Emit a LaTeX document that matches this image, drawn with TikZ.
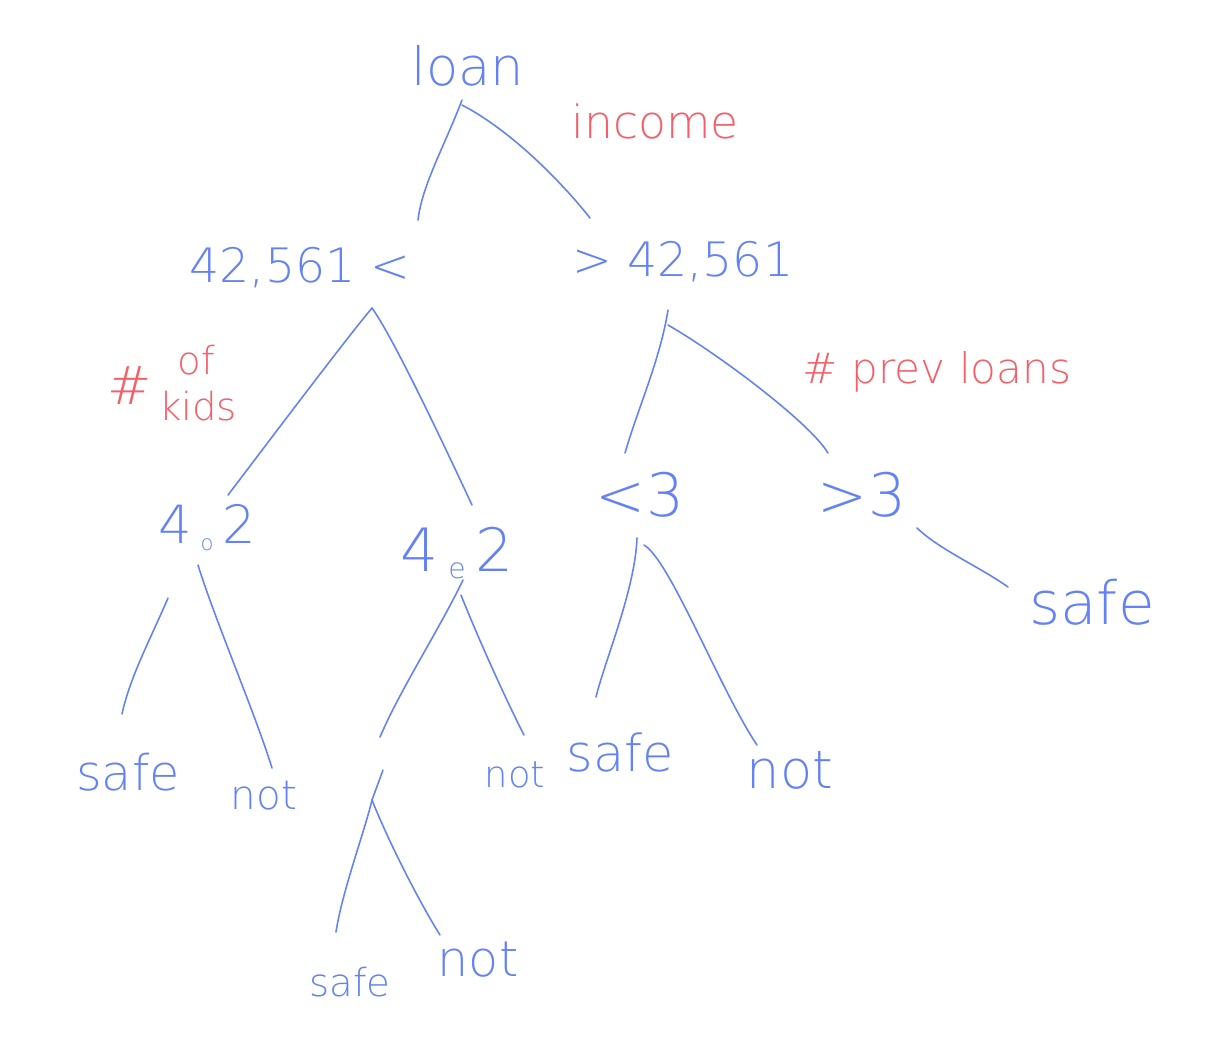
\documentclass[tikz,border=0pt]{standalone}
\usepackage{fontspec}
\IfFontExistsTF{DejaVu Sans ExtraLight}{\setmainfont{DejaVu Sans ExtraLight}}{\setmainfont{DejaVu Sans}}
\usetikzlibrary{calc}
\definecolor{hb}{RGB}{100,130,245}
\definecolor{hr}{RGB}{245,95,105}
\tikzset{
  lbl/.style={text=hb, inner sep=0pt},
  note/.style={text=hr, inner sep=0pt},
  edge/.style={draw=hb, line width=0.9pt, line cap=round}
}
\newcommand{\fs}[1]{\fontsize{#1}{#1}\selectfont}
\begin{document}
\begin{tikzpicture}[x=0.02cm,y=-0.02cm]
\useasboundingbox (0,0) rectangle (1210,1046);
% nodes
\node[lbl, font=\fs{30}] (L) at (468,66) {loan};
\node[note, font=\fs{26}] (I) at (655,122) {income};
\node[lbl, font=\fs{27}] (A) at (300,268) {42,561 <};
\node[lbl, font=\fs{27}] (B) at (683,262) {> 42,561};
\node[note, font=\fs{30}] (K1) at (130,386) {\#};
\node[note, font=\fs{22}] (K2) at (196,360) {of};
\node[note, font=\fs{22}] (K3) at (198,406) {kids};
\node[note, font=\fs{24}] (P) at (937,372) {\# prev loans};
\node[lbl, font=\fs{30}] (C) at (207,528) {4\,\raisebox{-4pt}{\fs{12}o}\,2};
\node[lbl, font=\fs{34}] (D) at (457,553) {4\,\raisebox{-4pt}{\fs{16}e}\,2};
\node[lbl, font=\fs{34}] (E) at (640,495) {<3};
\node[lbl, font=\fs{34}] (F) at (862,495) {>3};
\node[lbl, font=\fs{34}] (G) at (1092,602) {safe};
\node[lbl, font=\fs{28}] (H) at (128,772) {safe};
\node[lbl, font=\fs{23}] (J) at (264,796) {not};
\node[lbl, font=\fs{21}] (M) at (515,775) {not};
\node[lbl, font=\fs{29}] (N) at (620,752) {safe};
\node[lbl, font=\fs{30}] (O) at (790,770) {not};
\coordinate (X) at (378,752);
\node[lbl, font=\fs{22}] (Q) at (350,982) {safe};
\node[lbl, font=\fs{28}] (R) at (478,960) {not};
% edges
\draw[edge] ($(L)+(-6,34)$) .. controls ($(L)+(-23,79)$) and ($(A)+(122,-83)$) .. ($(A)+(118,-48)$);
\draw[edge] ($(L)+(-6,39)$) .. controls ($(L)+(42,64)$) and ($(B)+(-123,-82)$) .. ($(B)+(-93,-44)$);
\draw[edge] ($(A)+(72,40)$) .. controls ($(A)+(45,72)$) and ($(C)+(53,-75)$) .. ($(C)+(21,-33)$);
\draw[edge] ($(A)+(72,40)$) .. controls ($(A)+(95,72)$) and ($(D)+(-7,-95)$) .. ($(D)+(15,-48)$);
\draw[edge] ($(B)+(-15,48)$) .. controls ($(B)+(-23,98)$) and ($(E)+(-2,-87)$) .. ($(E)+(-15,-42)$);
\draw[edge] ($(B)+(-15,63)$) .. controls ($(B)+(37,93)$) and ($(F)+(-52,-72)$) .. ($(F)+(-34,-42)$);
\draw[edge] ($(C)+(-39,70)$) .. controls ($(C)+(-57,112)$) and ($(H)+(2,-95)$) .. ($(H)+(-6,-58)$);
\draw[edge] ($(C)+(-9,37)$) .. controls ($(C)+(8,92)$) and ($(J)+(-9,-83)$) .. ($(J)+(8,-28)$);
\draw[edge] ($(D)+(6,27)$) .. controls ($(D)+(-17,75)$) and ($(X)+(22,-62)$) .. ($(X)+(2,-15)$);
\draw[edge] ($(D)+(4,42)$) .. controls ($(D)+(23,90)$) and ($(M)+(-5,-67)$) .. ($(M)+(9,-40)$);
\draw[edge] ($(X)+(5,18)$) -- ($(X)+(-6,48)$) .. controls ($(X)+(-13,78)$) and ($(Q)+(-8,-90)$) .. ($(Q)+(-14,-50)$);
\draw[edge] ($(X)+(-6,48)$) .. controls ($(X)+(12,93)$) and ($(R)+(-58,-57)$) .. ($(R)+(-38,-25)$);
\draw[edge] ($(E)+(-3,43)$) .. controls ($(E)+(-5,95)$) and ($(N)+(-15,-92)$) .. ($(N)+(-24,-55)$);
\draw[edge] ($(E)+(4,50)$) .. controls ($(E)+(30,65)$) and ($(O)+(-70,-80)$) .. ($(O)+(-33,-25)$);
\draw[edge] ($(F)+(55,33)$) .. controls ($(F)+(78,55)$) and ($(G)+(-112,-35)$) .. ($(G)+(-84,-15)$);
\end{tikzpicture}
\end{document}
